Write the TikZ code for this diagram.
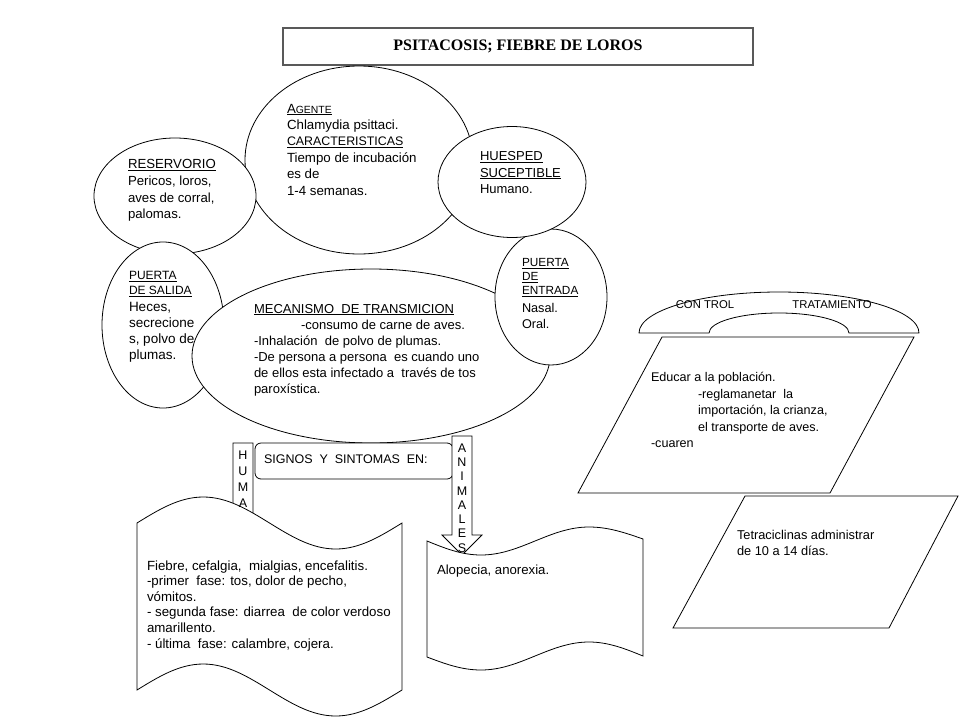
\documentclass[tikz,border=0pt]{standalone}
\usepackage{fontspec}
\setmainfont{Liberation Sans}
\newfontfamily\titlefont{Liberation Serif}
\usetikzlibrary{shapes.geometric}
\newcommand{\fs}[2]{\fontsize{#1}{#2}\selectfont}
\begin{document}
\begin{tikzpicture}[x=1pt,y=-1pt,line width=0.8pt,
  shp/.style={draw=black, fill=white, inner sep=0pt, outer sep=0pt},
  oval/.style={shp, ellipse},
  tx/.style={anchor=north west, inner sep=0pt, outer sep=0pt, align=left},
  letters/.style={anchor=north, inner sep=0pt, outer sep=0pt, align=center}]
\fill[white] (0,0) rectangle (960,720);
\useasboundingbox (0,0) rectangle (960,720);

% title
\node[draw=black!65, line width=1.3pt, minimum width=470pt, minimum height=37pt, inner sep=0pt] (title) at (518,46.5) {\titlefont\bfseries\fs{16}{19}PSITACOSIS; FIEBRE DE LOROS};

% ellipses (drawing order gives the overlaps)
\node[oval, minimum width=228pt, minimum height=188pt] (agente) at (359,160) {};
\node[oval, minimum width=162pt, minimum height=116pt] (reserv) at (175,196) {};
\node[oval, minimum width=122pt, minimum height=166pt] (psalida) at (163,325) {};
\node[oval, minimum width=358pt, minimum height=174pt] (mecan) at (371,356) {};
\node[oval, minimum width=112pt, minimum height=136pt] (pentrada) at (551,297) {};
\node[oval, minimum width=148pt, minimum height=111pt] (huesped) at (512,182) {};

% signos box and block arrows
\node[shp, rounded corners=6pt, minimum width=198pt, minimum height=36pt, anchor=north west] (signos) at (255,443) {};
\draw[shp] (233,443) -- (253,443) -- (253,545) -- (263,545) -- (243,565) -- (223,545) -- (233,545) -- cycle;
\draw[shp] (452,436) -- (472,436) -- (472,535) -- (482,535) -- (462,555) -- (442,535) -- (452,535) -- cycle;

% documents (wavy shapes)
\draw[shp] (137,523) sin (203.25,497) cos (269.5,523) sin (335.75,549) cos (402,523)
  -- (402,690) sin (335.75,716) cos (269.5,690) sin (203.25,664) cos (137,690) -- cycle;
\draw[shp] (427,541) sin (481,555) cos (535,541) sin (589,527) cos (643,539)
  -- (643,656) sin (589,642) cos (535,656) sin (481,670) cos (427,657) -- cycle;

\node[letters, font=\fs{12.5}{16}] (huma) at (243,451) {H\\U\\M\\A};
\node[letters, font=\fs{12.5}{14.3}] (animales) at (462,443.5) {A\\N\\I\\M\\A\\L\\E\\S};

% control / tratamiento arch
\node[inner sep=0pt, font=\fs{11.3}{13}] (control) at (705,305) {CON TROL};
\node[inner sep=0pt, font=\fs{11.3}{13}] (tratam) at (832,305) {TRATAMIENTO};
\draw (639,333) arc[start angle=180, end angle=0, x radius=140pt, y radius=41pt]
  -- (849,333) arc[start angle=0, end angle=180, x radius=70pt, y radius=20pt] -- cycle;

% parallelograms
\draw[shp] (662,337) -- (914,337) -- (830,493) -- (578,493) -- cycle;
\draw[shp] (745,496) -- (958,496) -- (889,628) -- (673,628) -- cycle;

% texts
\node[tx, font=\fs{13.3}{16.4}] (tagente) at (287,104)
 {\underline{A{\fs{10.4}{16.4}GENTE}}\\Chlamydia psittaci.\\{\fs{12.4}{16.4}\underline{CARACTERISTICAS}}\\Tiempo de incubación\\es de\\1-4 semanas.};
\node[tx, font=\fs{13.2}{16.7}] (treserv) at (128,159.5)
 {\underline{RESERVORIO}\\Pericos, loros,\\aves de corral,\\palomas.};
\node[tx, font=\fs{13}{16.5}] (thuesped) at (480,151.5)
 {\underline{HUESPED}\\\underline{SUCEPTIBLE}\\Humano.};
\node[tx, font=\fs{12}{15}] (tsalidah) at (129,271.5) {\underline{PUERTA}\\\underline{DE SALIDA}};
\node[tx, font=\fs{13.5}{16}] (tsalida) at (129,302) {Heces,\\secrecione\\s, polvo de\\plumas.};
\node[tx, font=\fs{11.8}{14}] (tentradah) at (522,258.5) {\underline{PUERTA}\\\underline{DE}\\\underline{ENTRADA}};
\node[tx, font=\fs{12.7}{16}] (tentrada) at (522,303) {Nasal.\\Oral.};
\node[tx, font=\fs{13}{16.1}] (tmecan) at (254,304)
 {\underline{MECANISMO\ \ DE TRANSMICION}\\\hspace*{47pt}-consumo de carne de aves.\\-Inhalación\ \ de polvo de plumas.\\-De persona a persona\ \ es cuando uno\\de ellos esta infectado a\ \ través de tos\\paroxística.};
\node[tx, font=\fs{12.5}{15}] (tsignos) at (264,455) {SIGNOS\ \ Y\ \ SINTOMAS\ \ EN:};
\node[tx, font=\fs{13.3}{15.6}] (thumanos) at (147,560.5)
 {Fiebre, cefalgia,\ \ mialgias, encefalitis.\\-primer\ \ fase: tos, dolor de pecho,\\vómitos.\\- segunda fase: diarrea\ \ de color verdoso\\amarillento.\\- última\ \ fase: calambre, cojera.};
\node[tx, font=\fs{13.2}{15}] (tanimales) at (437,564.5) {Alopecia, anorexia.};
\node[tx, font=\fs{12.6}{16.5}] (tcontrol) at (651,372.5)
 {Educar a la población.\\\hspace*{47pt}-reglamanetar\ \ la\\\hspace*{47pt}importación, la crianza,\\\hspace*{47pt}el transporte de aves.\\-cuaren};
\node[tx, font=\fs{12.8}{16}] (ttratam) at (737,530.5) {Tetraciclinas administrar\\de 10 a 14 días.};
\end{tikzpicture}
\end{document}
